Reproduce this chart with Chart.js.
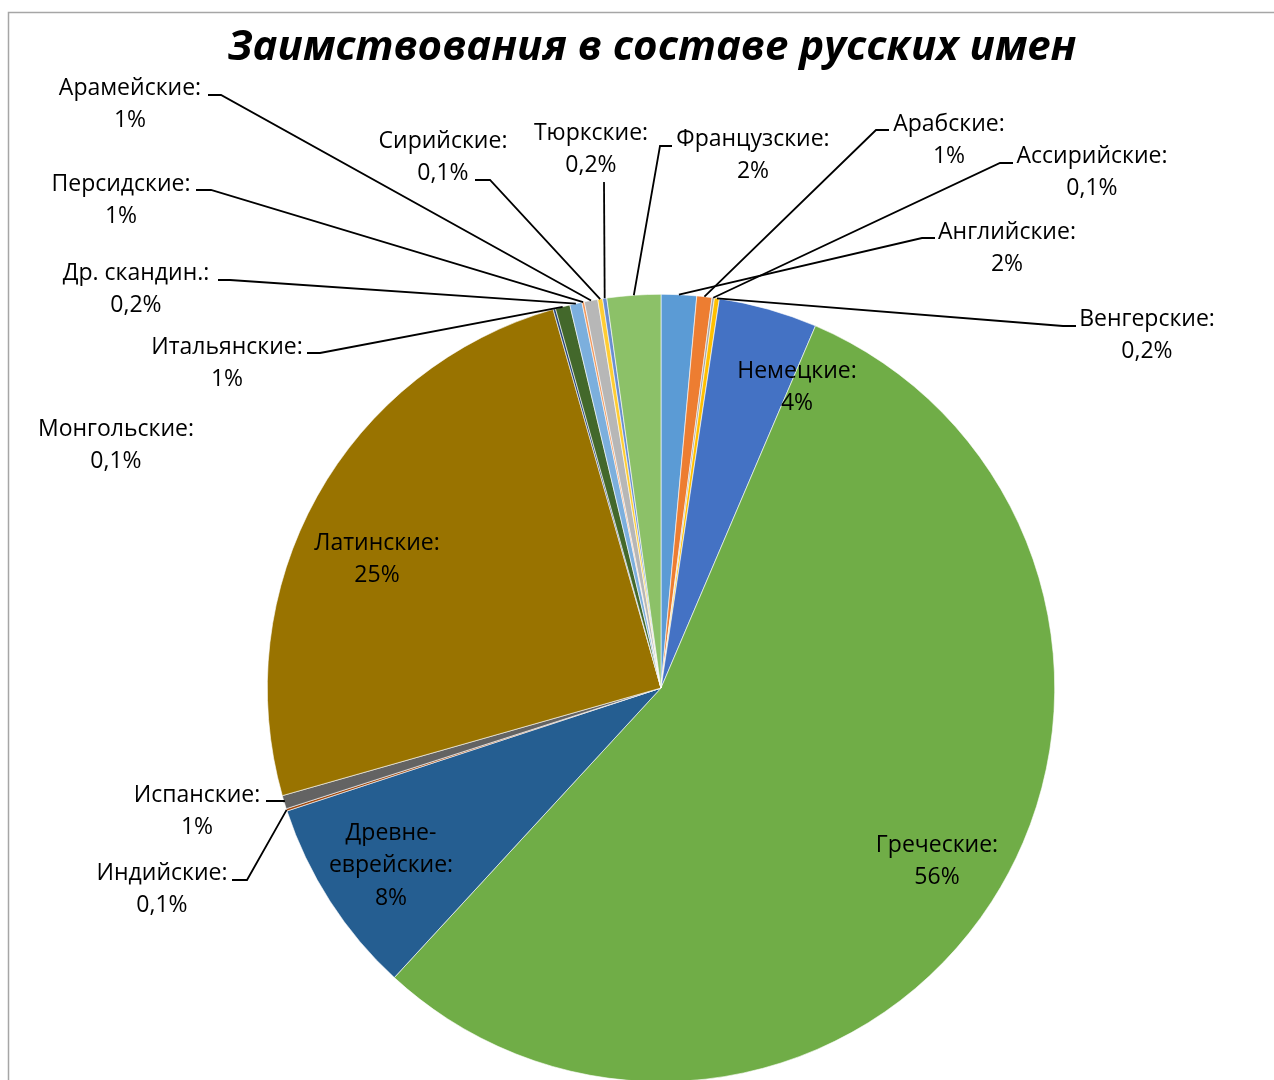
<!DOCTYPE html>
<html>
<head>
<meta charset="utf-8">
<script src="https://cdn.jsdelivr.net/npm/chart.js@4"></script>
<style>
html,body{margin:0;padding:0;background:#fff;overflow:hidden;}
#wrap{width:1274px;height:1100px;position:relative;}
</style>
</head>
<body>
<div id="wrap"><canvas id="c" width="1274" height="1100"></canvas></div>
<script>
// ---- data (clockwise from 12 o'clock) ----
const categories = ["Английские","Арабские","Ассирийские","Венгерские","Немецкие","Греческие","Древнееврейские","Индийские","Испанские","Латинские","Монгольские","Итальянские","Др. скандин.","Персидские","Арамейские","Сирийские","Тюркские","Французские"];
const shares = [1.45,0.62,0.1,0.2,4.05,55.45,8.1,0.1,0.55,25.0,0.1,0.6,0.5,0.1,0.55,0.2,0.17,2.2];
const pctText = ["2%","1%","0,1%","0,2%","4%","56%","8%","0,1%","1%","25%","0,1%","1%","0,2%","1%","1%","0,1%","0,2%","2%"];
const labelLines = [["Английские:"],["Арабские:"],["Ассирийские:"],["Венгерские:"],["Немецкие:"],["Греческие:"],["Древне-","еврейские:"],["Индийские:"],["Испанские:"],["Латинские:"],["Монгольские:"],["Итальянские:"],["Др. скандин.:"],["Персидские:"],["Арамейские:"],["Сирийские:"],["Тюркские:"],["Французские:"]];
const titleText = "Заимствования в составе русских имен";

// ---- styles / layout ----
const colors = ["#5B9BD5","#ED7D31","#A5A5A5","#FFC000","#4472C4","#70AD47","#255E91","#9E480E","#636363","#997300","#264478","#43682B","#7CAFDD","#F1975A","#B7B7B7","#FFCD33","#698ED0","#8CC168"];
// label placement: [centerX, firstLineY, leaderStartX, leaderStartY, elbowX] (leader null = none)
const labelLayout = [
  [1007,232, 935,238,922],
  [949,124, 889,130,876],
  [1092,156, 1013,163,1000],
  [1147,319, 1076,326,1063],
  [797,371, null],
  [937,845, null],
  [391,833, null],
  [162,873, 232,880,247],
  [197,795, 266,801,284],
  [377,543, null],
  [116,429, null],
  [227,347, 307,353,320],
  [136,273, 218,280,230],
  [121,184, 196,190,211],
  [130,88, 208,95,221],
  [443,141, 475,180,490],
  [591,133, 604,182,604],
  [753,139, 672,146,660]
];
const LABEL_FONT = "23px 'Open Sans'";
const LINE_H = 32.5;

const overlay = {
  id:'overlay',
  afterDraw(chart){
    const ctx = chart.ctx;
    const meta = chart.getDatasetMeta(0);
    ctx.save();
    // frame
    ctx.strokeStyle = '#A6A6A6';
    ctx.lineWidth = 1.5;
    ctx.strokeRect(8.5,12.5,1300,1200);
    // title
    ctx.fillStyle = '#000';
    ctx.font = "italic bold 41px 'Open Sans'";
    ctx.textAlign = 'center';
    ctx.textBaseline = 'middle';
    const tw = ctx.measureText(titleText).width;
    ctx.save();
    ctx.translate(652,48);
    ctx.scale(849/tw,1);
    ctx.fillText(titleText,0,0);
    ctx.restore();
    // leaders
    ctx.strokeStyle = '#000';
    ctx.lineWidth = 1.8;
    labelLayout.forEach((L,i)=>{
      if(L[2]==null) return;
      const arc = meta.data[i];
      const p = arc.getProps(['x','y','startAngle','endAngle','outerRadius'],true);
      const a = (p.startAngle+p.endAngle)/2;
      const ex = p.x + Math.cos(a)*p.outerRadius;
      const ey = p.y + Math.sin(a)*p.outerRadius;
      ctx.beginPath();
      ctx.moveTo(L[2],L[3]);
      ctx.lineTo(L[4],L[3]);
      ctx.lineTo(ex,ey);
      ctx.stroke();
    });
    // labels
    ctx.font = LABEL_FONT;
    ctx.fillStyle = '#000';
    labelLayout.forEach((L,i)=>{
      const lines = labelLines[i].concat([pctText[i]]);
      lines.forEach((t,k)=>ctx.fillText(t,L[0],L[1]+k*LINE_H));
    });
    ctx.restore();
  }
};

new Chart(document.getElementById('c'),{
  type:'pie',
  data:{labels:categories,datasets:[{data:shares,backgroundColor:colors,borderColor:'#ffffff',borderWidth:0.6}]},
  options:{
    responsive:false,
    animation:false,
    layout:{padding:{top:294,bottom:18,left:267,right:219}},
    plugins:{legend:{display:false},tooltip:{enabled:false},title:{display:false}}
  },
  plugins:[overlay]
});
</script>
</body>
</html>
